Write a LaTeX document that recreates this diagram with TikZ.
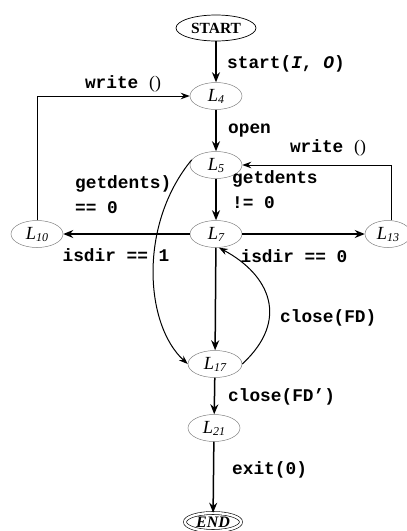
\documentclass[tikz,border=0pt]{standalone}
\usepackage{fontspec}
\setmainfont{Liberation Serif}
\setmonofont{Liberation Mono}
\usepackage{tikz}
\usetikzlibrary{arrows.meta, shapes.geometric}

% location names with a lowered index
\newcommand{\locname}[1]{L\raisebox{-2pt}{\fontsize{12}{12}\selectfont #1}}

\begin{document}
\begin{tikzpicture}[x=1pt, y=-1pt,
    loc/.style={ellipse, draw=gray, line width=0.5pt, minimum width=52pt, minimum height=27pt,
      inner sep=0pt, font=\fontsize{18.5}{18.5}\selectfont\itshape},
    flow/.style={line width=1.5pt, -{Stealth[length=10pt, width=8pt]}},
    curvy/.style={line width=1pt, -{Stealth[length=9pt, width=6.5pt]}},
    lbl/.style={font=\fontsize{17.8}{25}\selectfont\ttfamily\bfseries, align=left, inner sep=0pt}]
  \useasboundingbox (0,0) rectangle (407,531);

  % draws the locations
  \node[ellipse, draw, line width=0.7pt, minimum width=80pt, minimum height=26pt, inner sep=0pt,
    font=\fontsize{15.5}{15.5}\selectfont\bfseries] (start) at (216,28) {START};
  \node[loc] (l4) at (216,96) {\locname{4}};
  \node[loc] (l5) at (216,165) {\locname{5}};
  \node[loc] (l7) at (216,234) {\locname{7}};
  \node[loc] (l10) at (37,234) {\locname{10}};
  \node[loc, minimum width=46pt] (l13) at (388,234) {\locname{13}};
  \node[loc, minimum width=54pt] (l17) at (215,364) {\locname{17}};
  \node[loc] (l21) at (214,428) {\locname{21}};
  \node[ellipse, draw, line width=0.6pt, double, double distance=2.4pt, minimum width=56pt,
    minimum height=18pt, inner sep=0pt, font=\fontsize{16}{16}\selectfont\bfseries\itshape]
    (end) at (213,522) {END};

  % draws the straight transitions
  \draw[flow] (start) -- (l4);
  \draw[flow] (l4) -- (l5);
  \draw[flow] (l5) -- (l7);
  \draw[flow] (l7) -- (l10);
  \draw[flow] (l7) -- (l13);
  \draw[flow] (l7) -- (l17);
  \draw[flow] (l17) -- (l21);
  \draw[flow] (l21) -- (end);

  % the two loops back with write ()
  \draw[curvy] (l10.north) |- (l4.west);
  \draw[curvy] ([xshift=3pt]l13.north) |- (l5.east);

  % the curved transitions
  \draw[curvy] (l5.168) .. controls (138,225) and (145,325) .. (l17.west);
  \draw[curvy] (l17.east) .. controls (290,320) and (270,275) .. (l7.-78);

  % draws the labels
  \node[lbl, anchor=west] (tstart) at (227,64) {start(\textit{I}, \textit{O})};
  \node[lbl, anchor=west] (topen) at (228,131) {open};
  \node[lbl, anchor=west] (tgd) at (232,190) {getdents\\!= 0};
  \node[lbl, anchor=west] (tgdz) at (75,195) {getdents)\\== 0};
  \node[lbl] (tw4) at (123,84) {write \textrm{\mdseries()}};
  \node[lbl] (tw5) at (328,148) {write \textrm{\mdseries()}};
  \node[lbl] (tdir1) at (116,255) {isdir == 1};
  \node[lbl] (tdir0) at (294,256) {isdir == 0};
  \node[lbl, anchor=west] (tclose) at (280,318) {close(FD)};
  \node[lbl, anchor=west] (tclose2) at (228,397) {close(FD’)};
  \node[lbl, anchor=west] (texit) at (232,470) {exit(0)};
\end{tikzpicture}
\end{document}
